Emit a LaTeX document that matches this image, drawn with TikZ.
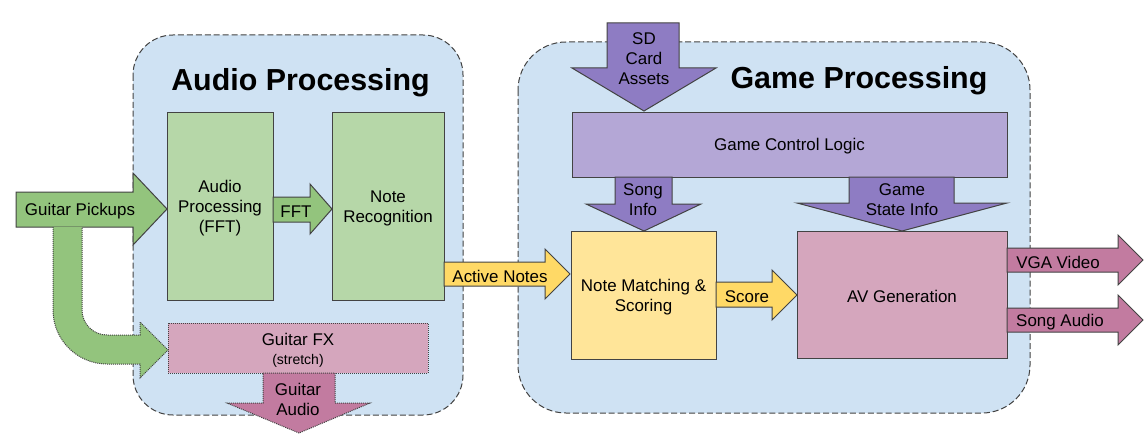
\documentclass[tikz,border=0pt]{standalone}
\usepackage{fontspec}
\setmainfont{Liberation Sans}
\usetikzlibrary{calc}
\definecolor{bluebg}{HTML}{CFE2F3}
\definecolor{greenbox}{HTML}{B6D7A8}
\definecolor{greenarr}{HTML}{93C47D}
\definecolor{yellowbox}{HTML}{FFE599}
\definecolor{yellowarr}{HTML}{FFD966}
\definecolor{purplebox}{HTML}{B4A7D6}
\definecolor{purplearr}{HTML}{8E7CC3}
\definecolor{pinkbox}{HTML}{D5A6BD}
\definecolor{pinkarr}{HTML}{C27BA0}
\definecolor{edge}{HTML}{434343}
\newcommand{\bodyfont}{\fontsize{12.7}{15}\selectfont}
\newcommand{\smallfont}{\fontsize{10.5}{12}\selectfont}
\newcommand{\titlefont}{\fontsize{22.8}{27}\selectfont\bfseries}
\begin{document}
\begin{tikzpicture}[x=0.75pt,y=-0.75pt,
  container/.style={draw=edge, fill=bluebg, line width=0.75pt, dash pattern=on 4.5pt off 2.2pt},
  box/.style={draw=edge, line width=0.75pt, inner sep=0pt},
  dotbox/.style={draw=edge, line width=0.75pt, dash pattern=on 0.75pt off 0.75pt, inner sep=0pt},
  blockarrow/.style={draw=edge, line width=0.75pt, line join=miter},
  dotarrow/.style={draw=edge, line width=0.75pt, dash pattern=on 0.75pt off 0.75pt},
  lbl/.style={align=center, font=\bodyfont, inner sep=0pt, yshift=-1.5pt},
  title/.style={font=\titlefont, inner sep=0pt, anchor=base}
]
\useasboundingbox (0,0) rectangle (1145,435);
\fill[white] (0,0) rectangle (1145,435);

% containers
\draw[container, rounded corners=30pt] (133,35) rectangle (463,415);
\draw[container, rounded corners=36pt] (518,42) rectangle (1030,413);
\node[title] (aptitle) at (300.5,90) {Audio Processing};
\node[title] (gptitle) at (859,89) {Game Processing};

% boxes
\node[box, fill=greenbox, minimum width=0.75*106pt, minimum height=0.75*188pt] (ap) at (220,206) {};
\node[lbl] (aptext) at (ap) {Audio\\Processing\\(FFT)};
\node[box, fill=greenbox, minimum width=0.75*112pt, minimum height=0.75*188pt] (nr) at (388,206) {};
\node[lbl] (nrtext) at (nr) {Note\\Recognition};
\node[dotbox, fill=pinkbox, minimum width=0.75*260pt, minimum height=0.75*50pt] (gfx) at (298,348) {};
\node[lbl] (gfxtext) at (gfx) {Guitar FX\\[-1pt]{\smallfont(stretch)}};
\node[box, fill=purplebox, minimum width=0.75*435pt, minimum height=0.75*65pt] (gcl) at (789.5,144.5) {};
\node[lbl] (gcltext) at (gcl) {Game Control Logic};
\node[box, fill=yellowbox, minimum width=0.75*145pt, minimum height=0.75*128pt] (nm) at (643.5,295) {};
\node[lbl] (nmtext) at (nm) {Note Matching \&\\Scoring};
\node[box, fill=pinkbox, minimum width=0.75*210pt, minimum height=0.75*127pt] (av) at (902,294.5) {};
\node[lbl] (avtext) at (av) {AV Generation};

% Guitar Pickups arrow
\draw[blockarrow, fill=greenarr] (16,192) -- (133,192) -- (133,173) -- (167,209) -- (133,245) -- (133,227) -- (16,227) -- cycle;
\node[lbl] (gp) at (80,209) {Guitar Pickups};

% curved arrow to Guitar FX
\draw[dotarrow, fill=greenarr] (53,227) -- (53,310) .. controls (53,339.8) and (77.2,364) .. (107,364)
  -- (140,364) -- (140,378) -- (168,350) -- (140,322) -- (140,335) -- (107,335)
  .. controls (93.2,335) and (82,323.8) .. (82,310) -- (82,227);

% FFT arrow
\draw[blockarrow, fill=greenarr] (273,197) -- (310,197) -- (310,184) -- (332,209) -- (310,234) -- (310,222) -- (273,222) -- cycle;
\node[lbl] (fft) at (296,209.5) {FFT};

% Guitar Audio arrow
\draw[dotarrow, fill=pinkarr] (263,373) -- (335,373) -- (335,403) -- (370,403) -- (299,433) -- (227,403) -- (263,403) -- cycle;
\node[lbl] (ga) at (298,397) {Guitar\\Audio};

% Active Notes arrow
\draw[blockarrow, fill=yellowarr] (444,262) -- (545,262) -- (545,249) -- (570,274) -- (545,299) -- (545,286) -- (444,286) -- cycle;
\node[lbl] (an) at (500,274) {Active Notes};

% SD Card Assets arrow
\draw[blockarrow, fill=purplearr] (607,23) -- (679,23) -- (679,68) -- (716,68) -- (644,111) -- (572,68) -- (607,68) -- cycle;
\node[lbl] (sd) at (644,57) {SD\\Card\\Assets};

% Song Info arrow
\draw[blockarrow, fill=purplearr] (615,177) -- (672,177) -- (672,204) -- (701,204) -- (644,231) -- (586,204) -- (615,204) -- cycle;
\node[lbl] (si) at (643,198) {Song\\Info};

% Game State Info arrow
\draw[blockarrow, fill=purplearr] (849,177) -- (954,177) -- (954,203) -- (1007,203) -- (902,231) -- (797,203) -- (849,203) -- cycle;
\node[lbl] (gs) at (902,198) {Game\\State Info};

% Score arrow
\draw[blockarrow, fill=yellowarr] (716,282) -- (772,282) -- (772,270) -- (797,295) -- (772,320) -- (772,307) -- (716,307) -- cycle;
\node[lbl] (sc) at (747,295) {Score};

% VGA Video arrow
\draw[blockarrow, fill=pinkarr] (1007,248) -- (1118,248) -- (1118,235) -- (1143,260) -- (1118,285) -- (1118,272) -- (1007,272) -- cycle;
\node[lbl] (vga) at (1058,260) {VGA Video};

% Song Audio arrow
\draw[blockarrow, fill=pinkarr] (1007,308) -- (1118,308) -- (1118,295) -- (1143,320) -- (1118,345) -- (1118,332) -- (1007,332) -- cycle;
\node[lbl] (sa) at (1060,320) {Song Audio};
\end{tikzpicture}
\end{document}
